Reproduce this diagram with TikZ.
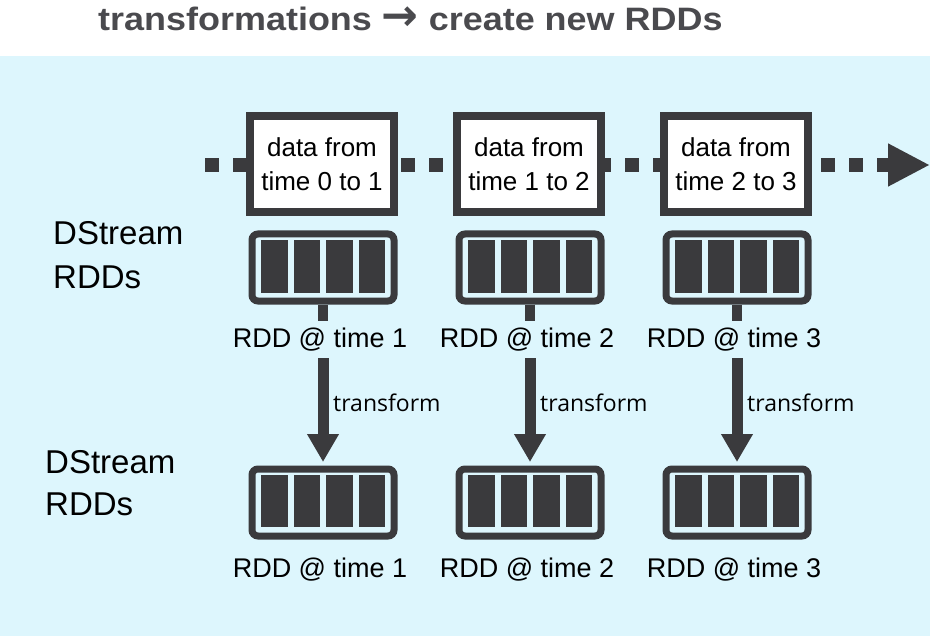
\documentclass[tikz,border=0pt]{standalone}
\usepackage{fontspec}
\setmainfont{Liberation Sans}
\newfontfamily\tfont{Open Sans}
\newfontfamily\arrowfont{DejaVu Sans}
\newfontfamily\titlefont{Liberation Sans}[FakeStretch=1.11]
\usetikzlibrary{arrows.meta}
\definecolor{bgcyan}{HTML}{DDF6FD}
\definecolor{dk}{HTML}{3A3A3D}
\definecolor{ttl}{HTML}{4A4A4E}
\begin{document}
\begin{tikzpicture}[x=1pt,y=-1pt,
  databox/.style={draw=dk, line width=8pt, fill=white, minimum width=144pt, minimum height=96pt, inner sep=0pt, align=center, font=\fontsize{26}{34}\selectfont},
  rddbox/.style={draw=dk, line width=7pt, rounded corners=6pt, minimum width=142pt, minimum height=67pt, inner sep=0pt},
  bar/.style={fill=dk},
  lbl/.style={font=\fontsize{27}{32}\selectfont, anchor=base, inner sep=0pt},
  side/.style={font=\fontsize{33}{42}\selectfont, anchor=base west, inner sep=0pt},
  dotline/.style={draw=dk, line width=14pt, dash pattern=on 14pt off 14pt, -{Triangle[length=42pt,width=40pt]}},
  tarrow/.style={draw=dk, line width=11pt, -{Triangle[length=28pt,width=30pt]}},
  stem/.style={draw=dk, line width=10pt},
  tlabel/.style={font=\tfont\fontsize{23}{28}\selectfont, anchor=base west, inner sep=0pt},
  titlestyle/.style={font=\titlefont\bfseries\fontsize{32.4}{36}\selectfont, text=ttl, anchor=base west, inner sep=0pt}
]
\useasboundingbox (0,0) rectangle (942,636);
\fill[bgcyan] (0,56) rectangle (930,636);
\node[titlestyle] (title) at (98,31) {transformations {\arrowfont\fontsize{44}{44}\selectfont →} create new RDDs};
\coordinate (s) at (205,165);
\coordinate (e) at (930,165);
\draw[dotline] (s) -- (e);
\foreach \i/\c/\a/\b in {1/322/0/1, 2/529/1/2, 3/736/2/3} {
  \node[databox] (d\i) at (\c,164) {data from\\time \a\ to \b};
  \node[rddbox] (rt\i) at (\c+1,267.5) {};
  \node[rddbox] (rb\i) at (\c+1,502.5) {};
  \foreach \k in {0,1,2,3} {
    \fill[bar] (\c+1-62+\k*32.5,240) rectangle ++(26.5,53);
    \fill[bar] (\c+1-62+\k*32.5,475) rectangle ++(26.5,52);
  }
  \draw[stem] (rt\i.south) -- ++(0,16.5);
  \node[lbl] (lt\i) at (\c-2,347) {RDD @ time \b};
  \node[lbl] (lb\i) at (\c-2,577) {RDD @ time \b};
  \coordinate (a\i) at (\c+1,358);
  \draw[tarrow] (a\i) -- ([yshift=3.5pt]rb\i.north);
  \node[tlabel] (tf\i) at (\c+11,411) {transform};
}
\node[side] (s1a) at (53,245) {DStream};
\node[side] (s1b) at (53,288) {RDDs};
\node[side] (s2a) at (45,473) {DStream};
\node[side] (s2b) at (45,515) {RDDs};
\end{tikzpicture}
\end{document}
